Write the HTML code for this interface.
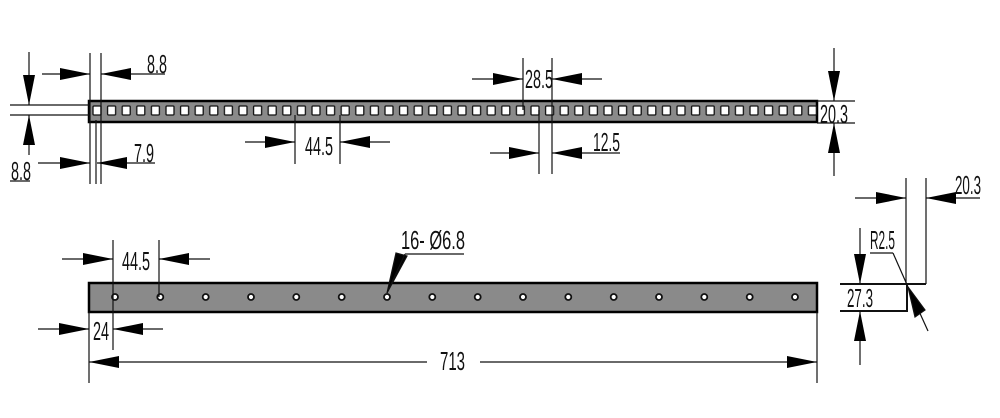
<!DOCTYPE html>
<html><head><meta charset="utf-8"><style>
html,body{margin:0;padding:0;background:#fff;width:1000px;height:418px;overflow:hidden}
text{font-family:"Liberation Sans",sans-serif;font-size:26px;fill:#111}
</style></head><body>
<svg width="1000" height="418" viewBox="0 0 1000 418" xmlns="http://www.w3.org/2000/svg">
<defs>
<pattern id="sq" x="91" y="0" width="14.6" height="418" patternUnits="userSpaceOnUse">
<rect x="2" y="106" width="8" height="9" rx="1" fill="#fff" stroke="#111" stroke-width="1.3"/>
</pattern>
<marker id="a" viewBox="0 0 30 12" refX="30" refY="6" markerWidth="30" markerHeight="12" markerUnits="userSpaceOnUse" orient="auto"><path d="M0,0 L30,6 L0,12z" fill="#000"/></marker>
</defs>
<g stroke="#111" stroke-width="1.2" fill="none">
<rect x="89" y="101" width="728" height="21" fill="#8a8a8a" stroke="#000" stroke-width="2.5"/>
<rect x="89" y="101" width="728" height="21" fill="url(#sq)" stroke="none"/>
<line x1="10" y1="105" x2="89" y2="105"/><line x1="10" y1="115" x2="89" y2="115"/>
<line x1="29" y1="52" x2="29" y2="105" marker-end="url(#a)"/>
<line x1="29" y1="155" x2="29" y2="115" marker-end="url(#a)"/>
<line x1="90" y1="53" x2="90" y2="184"/><line x1="101" y1="53" x2="101" y2="184"/>
<line x1="96" y1="184" x2="96" y2="120"/>
<line x1="42" y1="74" x2="90" y2="74" marker-end="url(#a)"/>
<line x1="165" y1="74" x2="101" y2="74" marker-end="url(#a)"/>
<line x1="38" y1="163" x2="90" y2="163" marker-end="url(#a)"/>
<line x1="155" y1="163" x2="97" y2="163" marker-end="url(#a)"/>
<line x1="10" y1="181" x2="30" y2="181"/>
<line x1="295" y1="115" x2="295" y2="164"/><line x1="340" y1="115" x2="340" y2="164"/>
<line x1="245" y1="142" x2="295" y2="142" marker-end="url(#a)"/>
<line x1="390" y1="142" x2="340" y2="142" marker-end="url(#a)"/>
<line x1="523" y1="58" x2="523" y2="110"/><line x1="552" y1="58" x2="552" y2="110"/>
<line x1="472" y1="79" x2="523" y2="79" marker-end="url(#a)"/>
<line x1="602" y1="79" x2="552" y2="79" marker-end="url(#a)"/>
<line x1="539" y1="110" x2="539" y2="174"/><line x1="552" y1="110" x2="552" y2="174"/>
<line x1="490" y1="153" x2="539" y2="153" marker-end="url(#a)"/>
<line x1="620" y1="153" x2="552" y2="153" marker-end="url(#a)"/>
<line x1="817" y1="101" x2="855" y2="101"/><line x1="817" y1="123" x2="855" y2="123"/>
<line x1="834" y1="48" x2="834" y2="101" marker-end="url(#a)"/>
<line x1="834" y1="176" x2="834" y2="123" marker-end="url(#a)"/>
<rect x="89" y="283" width="728" height="29" fill="#8a8a8a" stroke="#000" stroke-width="2.5"/>
<g fill="#fff" stroke="#111" stroke-width="1.8">
<circle cx="115" cy="297" r="3"/><circle cx="160.3" cy="297" r="3"/><circle cx="205.7" cy="297" r="3"/><circle cx="251" cy="297" r="3"/>
<circle cx="296.3" cy="297" r="3"/><circle cx="341.7" cy="297" r="3"/><circle cx="387" cy="297" r="3"/><circle cx="432.3" cy="297" r="3"/>
<circle cx="477.7" cy="297" r="3"/><circle cx="523" cy="297" r="3"/><circle cx="568.3" cy="297" r="3"/><circle cx="613.7" cy="297" r="3"/>
<circle cx="659" cy="297" r="3"/><circle cx="704.3" cy="297" r="3"/><circle cx="749.7" cy="297" r="3"/><circle cx="795" cy="297" r="3"/>
</g>
<line x1="113" y1="240" x2="113" y2="350"/><line x1="159" y1="240" x2="159" y2="297"/>
<line x1="62" y1="259" x2="113" y2="259" marker-end="url(#a)"/>
<line x1="210" y1="259" x2="159" y2="259" marker-end="url(#a)"/>
<line x1="38" y1="329" x2="89" y2="329" marker-end="url(#a)"/>
<line x1="163" y1="329" x2="113" y2="329" marker-end="url(#a)"/>
<line x1="89" y1="312" x2="89" y2="383"/><line x1="817" y1="312" x2="817" y2="383"/>
<line x1="427" y1="362" x2="89" y2="362" marker-end="url(#a)"/>
<line x1="480" y1="362" x2="817" y2="362" marker-end="url(#a)"/>
<line x1="464" y1="254" x2="405" y2="254"/>
<path d="M387,293 L396,253 L407,256z" fill="#000"/>
<line x1="387" y1="293" x2="405" y2="254"/>
<line x1="906" y1="178" x2="906" y2="284"/>
<line x1="926" y1="178" x2="926" y2="284"/>
<line x1="840" y1="284" x2="926" y2="284" stroke-width="2"/>
<path d="M907,284 L907,311 L840,311" stroke-width="2"/>
<line x1="855" y1="198" x2="906" y2="198" marker-end="url(#a)"/>
<line x1="980" y1="198" x2="926" y2="198" marker-end="url(#a)"/>
<line x1="860" y1="228" x2="860" y2="284" marker-end="url(#a)"/>
<line x1="860" y1="365" x2="860" y2="311" marker-end="url(#a)"/>
<line x1="870" y1="253" x2="893" y2="253"/>
<line x1="893" y1="253" x2="908" y2="287"/>
<line x1="928" y1="331" x2="908" y2="287"/>
<path d="M908,287 L925,310 L915,317z" fill="#000"/>
</g>
<g>
<text x="147" y="73" textLength="20" lengthAdjust="spacingAndGlyphs">8.8</text>
<text x="11" y="180" textLength="20" lengthAdjust="spacingAndGlyphs">8.8</text>
<text x="134" y="162" textLength="20" lengthAdjust="spacingAndGlyphs">7.9</text>
<text x="305" y="155" textLength="28" lengthAdjust="spacingAndGlyphs">44.5</text>
<text x="525" y="88" textLength="28" lengthAdjust="spacingAndGlyphs">28.5</text>
<text x="593" y="151" textLength="27" lengthAdjust="spacingAndGlyphs">12.5</text>
<text x="820" y="123" textLength="28" lengthAdjust="spacingAndGlyphs">20.3</text>
<text x="122" y="270" textLength="28" lengthAdjust="spacingAndGlyphs">44.5</text>
<text x="93" y="340" textLength="16" lengthAdjust="spacingAndGlyphs">24</text>
<text x="401" y="249" textLength="64" lengthAdjust="spacingAndGlyphs">16- Ø6.8</text>
<text x="440" y="370" textLength="25" lengthAdjust="spacingAndGlyphs">713</text>
<text x="955" y="194" textLength="26" lengthAdjust="spacingAndGlyphs">20.3</text>
<text x="870" y="249" textLength="25" lengthAdjust="spacingAndGlyphs">R2.5</text>
<text x="847" y="307" textLength="26" lengthAdjust="spacingAndGlyphs">27.3</text>
</g>
</svg>
</body></html>
